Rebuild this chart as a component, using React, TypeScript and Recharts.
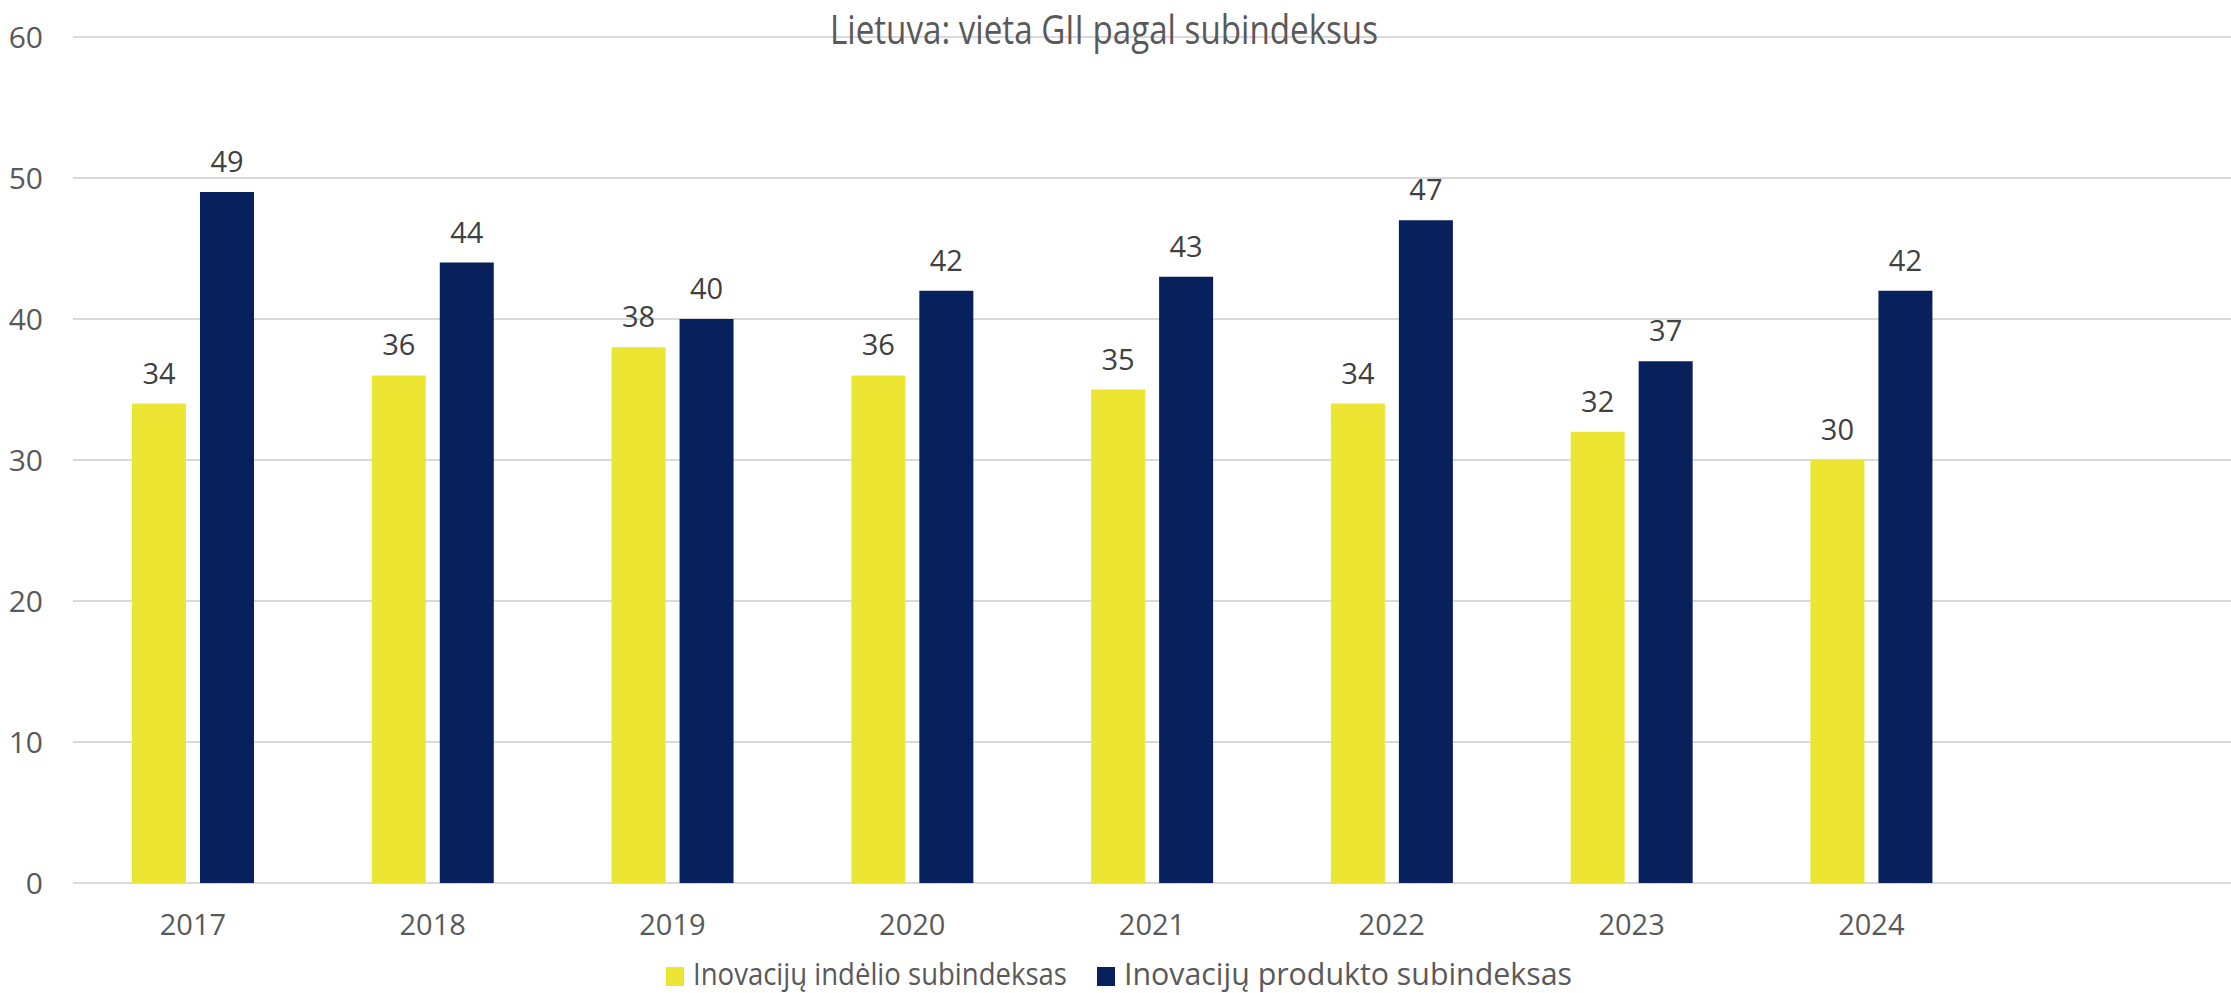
import React from 'react';
import { BarChart, Bar, XAxis, YAxis, CartesianGrid, Legend, LabelList } from 'recharts';

const years = ['2017', '2018', '2019', '2020', '2021', '2022', '2023', '2024', ''];
const inputIndex = [34, 36, 38, 36, 35, 34, 32, 30, null];
const outputIndex = [49, 44, 40, 42, 43, 47, 37, 42, null];
const yTicks = [0, 10, 20, 30, 40, 50, 60];

const seriesNames = ['Inovacijų indėlio subindeksas', 'Inovacijų produkto subindeksas'];
const seriesColors = ['#ECE632', '#08215C'];
const titleText = 'Lietuva: vieta GII pagal subindeksus';

const data = years.map((y, i) => ({ year: y, a: inputIndex[i], b: outputIndex[i] }));

const FONT = "'Open Sans', sans-serif";

const renderLabel = (props: any) => {
  const { x, y, width, value } = props;
  if (value === null || value === undefined) return null;
  return (
    <text
      x={x + width / 2}
      y={y - 20}
      textAnchor="middle"
      fill="#404040"
      fontSize={29}
      fontFamily={FONT}
    >
      {value}
    </text>
  );
};

const legendLayout = [
  { sq: 666, tx: 693, len: 374 },
  { sq: 1097, tx: 1124, len: 448 },
];

const renderLegend = (props: any) => {
  const payload = props.payload || [];
  return (
    <svg width={2231} height={43} style={{ overflow: 'visible', display: 'block' }}>
      {payload.map((p: any, i: number) => {
        const l = legendLayout[i] || legendLayout[0];
        return (
          <g key={i}>
            <rect x={l.sq} y={17} width={18} height={19} fill={p.color} />
            <text
              x={l.tx}
              y={35}
              fontSize={31}
              fontFamily={FONT}
              fill="#595959"
              textLength={l.len}
              lengthAdjust="spacingAndGlyphs"
            >
              {p.value}
            </text>
          </g>
        );
      })}
    </svg>
  );
};

export default function App() {
  return (
    <div style={{ position: 'relative', width: 2231, height: 993, background: '#fff', overflow: 'hidden' }}>
      <style>{`body{margin:0}`}</style>
      <BarChart
        width={2231}
        height={993}
        data={data}
        margin={{ top: 37, right: 0, left: 0, bottom: 17 }}
        barGap={14}
        barSize={54}
      >
        <CartesianGrid vertical={false} stroke="#D9D9D9" strokeWidth={2} />
        <XAxis
          dataKey="year"
          axisLine={false}
          tickLine={false}
          tickSize={0}
          tickMargin={31}
          interval={0}
          height={50}
          tick={{ fill: '#595959', fontSize: 29, fontFamily: FONT }}
        />
        <YAxis
          domain={[0, 60]}
          ticks={yTicks}
          width={73}
          axisLine={false}
          tickLine={false}
          tickSize={0}
          tickMargin={30}
          tick={{ fill: '#595959', fontSize: 30, fontFamily: FONT }}
        />
        <Legend
          content={renderLegend}
          wrapperStyle={{ position: 'absolute', left: 0, top: 950, width: 2231, height: 43 }}
        />
        <Bar dataKey="a" name={seriesNames[0]} fill={seriesColors[0]} isAnimationActive={false}>
          <LabelList dataKey="a" content={renderLabel} />
        </Bar>
        <Bar dataKey="b" name={seriesNames[1]} fill={seriesColors[1]} isAnimationActive={false}>
          <LabelList dataKey="b" content={renderLabel} />
        </Bar>
      </BarChart>
      <svg
        width={2231}
        height={60}
        style={{ position: 'absolute', left: 0, top: 0, overflow: 'visible', pointerEvents: 'none' }}
      >
        <text
          x={830}
          y={44}
          fontSize={40}
          fontFamily={FONT}
          fill="#595959"
          textLength={548}
          lengthAdjust="spacingAndGlyphs"
        >
          {titleText}
        </text>
      </svg>
    </div>
  );
}
